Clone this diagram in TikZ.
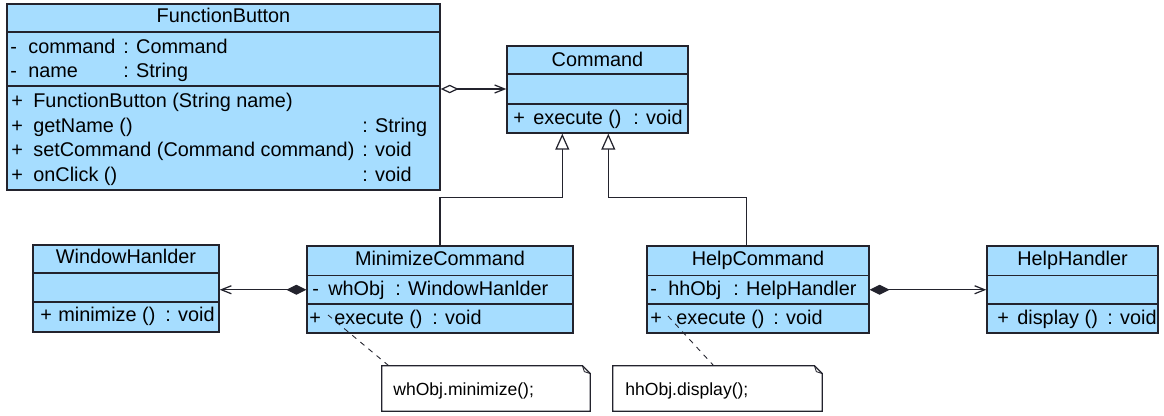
\documentclass[tikz,border=0pt]{standalone}
\usepackage{fontspec}
\setmainfont{Liberation Sans}
\usetikzlibrary{arrows.meta,calc,fit,positioning}
\definecolor{UMLazul} {RGB}{166,221,255}
\definecolor{UMLborde}{RGB}{ 35, 35, 45}

\begin{document}
\begin{tikzpicture}[x=0.02cm,y=-0.02cm,
  caja/.style={draw=UMLborde,fill=UMLazul,line width=0.8pt,inner sep=0pt},
  texto/.style={anchor=base west,inner sep=0pt,font=\fontsize{11.3pt}{13pt}\selectfont},
  titulo/.style={anchor=base,inner sep=0pt,font=\fontsize{11.3pt}{13pt}\selectfont},
  nota/.style={inner sep=0pt},
  liga/.style={draw=UMLborde,line width=0.7pt},
  hereda/.style={liga,-{Triangle[fill=white,length=0.32cm,width=0.28cm]}},
  agrega/.style={liga,{Diamond[fill=white,length=0.36cm,width=0.17cm]}-{Straight Barb[length=0.2cm,width=0.16cm]}},
  compone/.style={liga,{Diamond[length=0.4cm,width=0.2cm]}-{Straight Barb[length=0.2cm,width=0.16cm]}}]
\useasboundingbox (0,0) rectangle (1164,416);

% FunctionButton
\node[caja,fit={(7,4)(440,32)}] (fbT) {};
\node[caja,fit={(7,32)(440,86)}] (fbA) {};
\node[caja,fit={(7,86)(440,190)}] (fbM) {};
\node[titulo] (fbN) at (223.5,22.5) {FunctionButton};
\foreach \y/\n/\t [count=\i] in {53/command/Command,77/name/String}{
  \node[texto] (fbv\i) at (10,\y) {-};
  \node[texto] (fbn\i) at (28,\y) {\n};
  \node[texto] (fbt\i) at (123,\y) {: \t};
}
\foreach \y/\n/\t [count=\i] in {107.5/FunctionButton (String name)/,
    132/getName ()/: String,156.5/setCommand (Command command)/: void,181/onClick ()/: void}{
  \node[texto] (fbp\i) at (11,\y) {+};
  \node[texto] (fbm\i) at (33,\y) {\n};
  \node[texto] (fbr\i) at (362,\y) {\t};
}

% Command
\node[caja,fit={(507,46)(688,74)}] (cmdT) {};
\node[caja,fit={(507,74)(688,104)}] (cmdA) {};
\node[caja,fit={(507,104)(688,133)}] (cmdM) {};
\node[titulo] (cmdN) at (597.5,66) {Command};
\node[texto] (cmdp) at (513,124) {+};
\node[texto] (cmdm) at (533,124) {execute ()};
\node[texto] (cmdr) at (633,124) {: void};

% WindowHanlder
\node[caja,fit={(33,245)(219,273)}] (whT) {};
\node[caja,fit={(33,273)(219,302)}] (whA) {};
\node[caja,fit={(33,302)(219,332)}] (whM) {};
\node[titulo] (whN) at (126,263.5) {WindowHanlder};
\node[texto] (whp) at (40,321.5) {+};
\node[texto] (whm) at (58,321.5) {minimize ()};
\node[texto] (whr) at (165,321.5) {: void};

% MinimizeCommand
\node[caja,fit={(307,246)(573,275.5)}] (mcT) {};
\node[caja,fit={(307,275.5)(573,304)}] (mcA) {};
\node[caja,fit={(307,304)(573,333)}] (mcM) {};
\node[titulo] (mcN) at (440,265.5) {MinimizeCommand};
\node[texto] (mcv) at (312,295) {-};
\node[texto] (mcn) at (328,295) {whObj};
\node[texto] (mct) at (395,295) {: WindowHanlder};
\node[texto] (mcp) at (309,324) {+};
\node[texto] (mcm) at (334,324) {execute ()};
\node[texto] (mcr) at (432,324) {: void};

% HelpCommand
\node[caja,fit={(647,246)(869,275.5)}] (hcT) {};
\node[caja,fit={(647,275.5)(869,304)}] (hcA) {};
\node[caja,fit={(647,304)(869,333)}] (hcM) {};
\node[titulo] (hcN) at (758,265.5) {HelpCommand};
\node[texto] (hcv) at (650,295) {-};
\node[texto] (hcn) at (668,295) {hhObj};
\node[texto] (hct) at (733,295) {: HelpHandler};
\node[texto] (hcp) at (650,324) {+};
\node[texto] (hcm) at (676,324) {execute ()};
\node[texto] (hcr) at (773,324) {: void};

% HelpHandler
\node[caja,fit={(987,246)(1158,275.5)}] (hhT) {};
\node[caja,fit={(987,275.5)(1158,304)}] (hhA) {};
\node[caja,fit={(987,304)(1158,333)}] (hhM) {};
\node[titulo] (hhN) at (1072.5,265.5) {HelpHandler};
\node[texto] (hhp) at (997,324) {+};
\node[texto] (hhm) at (1017,324) {display ()};
\node[texto] (hhr) at (1107,324) {: void};

% notas
\node[nota,fit={(382,366)(590,411)}] (notaMin) {};
\node[nota,fit={(613,366)(822,411)}] (notaAyu) {};
\foreach \n in {notaMin,notaAyu}{
  \draw[liga] (\n.north west) -- ($(\n.north east)+(-8,0)$) -- ($(\n.north east)+(0,8)$)
    -- (\n.south east) -- (\n.south west) -- cycle;
  \draw[liga,line width=0.5pt] ($(\n.north east)+(-8,0)$) -- ($(\n.north east)+(-6,6)$) -- ($(\n.north east)+(0,8)$);
}
\node[texto,font=\fontsize{10pt}{12pt}\selectfont] (notaMinT) at (393,395) {whObj.minimize();};
\node[texto,font=\fontsize{10pt}{12pt}\selectfont] (notaAyuT) at (625,395) {hhObj.display();};

% conectores
\draw[agrega] (cmdA.west -| fbM.east) -- (cmdA.west);
\draw[hereda] (mcT.north) -- ++(0,-48) -| ($(cmdM.south west)+(56,0)$);
\draw[hereda] ($(hcT.north west)+(100,0)$) -- ++(0,-48) -| ($(cmdM.south west)+(102,0)$);
\draw[compone] (mcA.west) -- (mcA.west -| whA.east);
\draw[compone] (hcA.east) -- (hcA.east -| hhA.west);
\coordinate (mcLiga) at (328,315);
\coordinate (hcLiga) at (668,316);
\draw[liga,line width=0.5pt,dash pattern=on 3pt off 3pt] (mcLiga) -- ($(notaMin.north west)+(7,0)$);
\draw[liga,line width=0.5pt,dash pattern=on 3pt off 3pt] (hcLiga) -- ($(notaAyu.north west)+(101,0)$);
\end{tikzpicture}
\end{document}
